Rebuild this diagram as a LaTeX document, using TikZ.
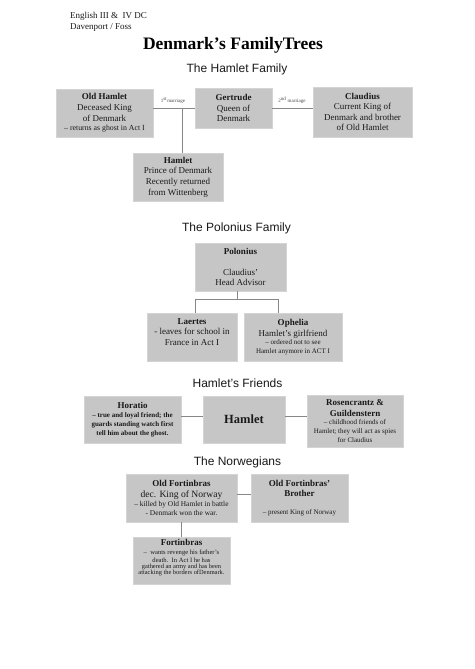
\documentclass[tikz,border=0pt]{standalone}
\usepackage{fontspec}
\setmainfont{Liberation Serif}
\setsansfont{Liberation Sans}
\definecolor{boxgray}{RGB}{198,198,198}
\definecolor{boxedge}{RGB}{212,212,212}
\definecolor{linegray}{RGB}{135,135,135}
\definecolor{txt}{RGB}{25,25,25}
\newcommand\smf[1]{{\fontsize{7}{8.6}\selectfont #1\par}}
\newcommand\nmf[1]{{\bfseries #1\par}}
\begin{document}
\begin{tikzpicture}[x=1pt,y=-1pt,
  box/.style={fill=boxgray, draw=boxedge, line width=0.6pt, inner sep=0pt, align=flush center,
    text=txt, font=\fontsize{9}{10.6}\selectfont},
  link/.style={draw=linegray, line width=0.9pt},
  heading/.style={font=\sffamily\fontsize{12}{14}\selectfont, anchor=base, text=txt},
  hdr/.style={font=\fontsize{9}{11}\selectfont, anchor=base west, inner sep=0pt, text=txt},
  lbl/.style={font=\fontsize{5}{6}\selectfont, inner sep=0pt, text=txt!80}]
\useasboundingbox[fill=white] (0,0) rectangle (474,669);

% header
\node[hdr] (h1) at (70,19) {English III \&\ \ IV DC};
\node[hdr] (h2) at (70,29.5) {Davenport / Foss};
\node[anchor=base, inner sep=0pt, font=\bfseries\fontsize{17.5}{20}\selectfont] (title) at (233,50) {Denmark's FamilyTrees};

% The Hamlet Family
\node[heading] (t1) at (237,72.5) {The Hamlet Family};
\node[box, minimum width=97pt, minimum height=48pt, text width=95pt] (oldhamlet) at (104.5,113)
  {\nmf{Old Hamlet}Deceased King\par of Denmark\par{\fontsize{7.8}{9.4}\selectfont -- returns as ghost in Act I\par}};
\node[box, minimum width=77pt, minimum height=40pt, text width=75pt] (gertrude) at (233.5,108)
  {\nmf{Gertrude}Queen of\par Denmark\par};
\node[box, minimum width=99pt, minimum height=50pt, text width=97pt] (claudius) at (362.5,112)
  {\nmf{Claudius}Current King of\par Denmark and brother\par of Old Hamlet\par};
\node[box, minimum width=90pt, minimum height=48pt, text width=88pt] (hamlet) at (178,177)
  {\nmf{Hamlet}Prince of Denmark\par Recently returned\par from Wittenberg\par};
\coordinate (m1) at (182,108);
\draw[link] (oldhamlet.east |- m1) -- (gertrude.west |- m1);
\draw[link] (m1) -- (m1 |- hamlet.north);
\draw[link] (gertrude.east |- m1) -- (claudius.west |- m1);
\node[lbl] (l1) at (173,101) {1\textsuperscript{st}marriage};
\node[lbl] (l2) at (292,100) {2\textsuperscript{nd} marriage};

% The Polonius Family
\node[heading] (t2) at (236.5,231) {The Polonius Family};
\node[box, minimum width=91pt, minimum height=48pt, text width=89pt] (polonius) at (240.5,267)
  {\nmf{Polonius}\vspace{10.6pt}Claudius'\par Head Advisor\par};
\node[box, minimum width=90pt, minimum height=48pt, text width=88pt] (laertes) at (192,337)
  {\nmf{Laertes}- leaves for school in\par France in Act I\par\vspace{10pt}};
\node[box, minimum width=98pt, minimum height=48pt, text width=96pt] (ophelia) at (293,337)
  {\nmf{Ophelia}Hamlet's girlfriend\par\smf{-- ordered not to see}\smf{Hamlet anymore in ACT I}};
\coordinate (p1) at (237,299);
\coordinate (pl) at (195,299);
\coordinate (pr) at (278,299);
\draw[link] (polonius.south -| p1) -- (p1);
\draw[link] (laertes.north -| pl) -- (pl) -- (pr) -- (ophelia.north -| pr);

% Hamlet's Friends
\node[heading] (t3) at (237.5,387) {Hamlet's Friends};
\node[box, minimum width=97pt, minimum height=47pt, text width=95pt] (horatio) at (132.5,419.5)
  {\nmf{Horatio}{\bfseries\fontsize{7}{9.2}\selectfont -- true and loyal friend; the\par guards standing watch first\par tell him about the ghost.\par}};
\node[box, minimum width=82pt, minimum height=47pt, text width=80pt] (hamletb) at (244,419.5)
  {{\bfseries\fontsize{12.5}{14}\selectfont Hamlet\par}};
\node[box, minimum width=96pt, minimum height=52pt, text width=94pt] (rg) at (355,421)
  {{\bfseries Rosencrantz \&\par Guildenstern\par}\smf{-- childhood friends of}\smf{Hamlet; they will act as spies}\smf{for Claudius}};
\coordinate (f1) at (0,416);
\draw[link] (horatio.east |- f1) -- (hamletb.west |- f1);
\draw[link] (hamletb.east |- f1) -- (rg.west |- f1);

% The Norwegians
\node[heading] (t4) at (237.5,465) {The Norwegians};
\node[box, minimum width=111pt, minimum height=48pt, text width=109pt] (oldfort) at (181.5,498)
  {\nmf{Old Fortinbras}{\fontsize{9.6}{10.4}\selectfont dec. King of Norway\par}{\fontsize{7.4}{9}\selectfont -- killed by Old Hamlet in battle\par - Denmark won the war.\par}};
\node[box, minimum width=97pt, minimum height=48pt, text width=95pt] (ofb) at (299.5,498)
  {\nmf{Old Fortinbras'}\nmf{Brother}\vspace{9pt}\smf{-- present King of Norway}};
\node[box, minimum width=97pt, minimum height=47pt, text width=95pt] (fortinbras) at (181.5,560.5)
  {\nmf{Fortinbras}{\fontsize{6.6}{8.2}\selectfont --\ \ wants revenge his father's\par death.\ \ In Act I he has\par}{\fontsize{6.4}{5.8}\selectfont gathered an army and has been\par attacking the borders ofDenmark.\par}\vspace{5pt}};
\coordinate (n1) at (181,494);
\draw[link] (oldfort.east |- n1) -- (ofb.west |- n1);
\draw[link] (oldfort.south -| n1) -- (fortinbras.north -| n1);
\end{tikzpicture}
\end{document}
